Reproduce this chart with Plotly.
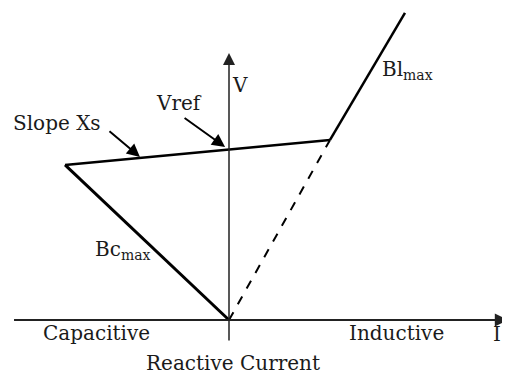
import plotly.graph_objects as go

# V-I characteristic of an SVC (current in p.u. of Bc limit, voltage in p.u.)
bc_current = [0.0, -1.0]
bc_voltage = [0.0, 0.912]

slope_current = [-1.0, 0.616]
slope_voltage = [0.912, 1.059]

bl_current = [0.616, 1.073]
bl_voltage = [1.059, 1.806]

dash_current = [0.0, 0.616]
dash_voltage = [0.0, 1.059]

v_ref = 1.003

FONT = dict(family="DejaVu Serif", size=20, color="#1a1a1a")

fig = go.Figure()

fig.add_trace(go.Scatter(x=bc_current, y=bc_voltage, mode="lines",
                         line=dict(color="black", width=3)))
fig.add_trace(go.Scatter(x=slope_current, y=slope_voltage, mode="lines",
                         line=dict(color="black", width=2.5)))
fig.add_trace(go.Scatter(x=bl_current, y=bl_voltage, mode="lines",
                         line=dict(color="black", width=2.5)))
fig.add_trace(go.Scatter(x=dash_current, y=dash_voltage, mode="lines",
                         line=dict(color="black", width=2, dash="dash")))

annotations = []

# axes drawn as arrows
annotations.append(dict(x=1.70, y=0, ax=-1.32, ay=0, xref="x", yref="y",
                        axref="x", ayref="y", text="", showarrow=True,
                        arrowhead=2, arrowsize=1.3, arrowwidth=2, arrowcolor="#222"))
annotations.append(dict(x=0, y=1.57, ax=0, ay=-0.13, xref="x", yref="y",
                        axref="x", ayref="y", text="", showarrow=True,
                        arrowhead=2, arrowsize=1.6, arrowwidth=1.5, arrowcolor="#222"))

# pointer arrows
annotations.append(dict(x=-0.543, y=0.959, ax=-0.738, ay=1.118, xref="x", yref="y",
                        axref="x", ayref="y", text="", showarrow=True,
                        arrowhead=2, arrowsize=1.3, arrowwidth=2, arrowcolor="black"))
annotations.append(dict(x=-0.024, y=v_ref + 0.015, ax=-0.280, ay=1.194, xref="x", yref="y",
                        axref="x", ayref="y", text="", showarrow=True,
                        arrowhead=2, arrowsize=1.3, arrowwidth=2, arrowcolor="black"))

labels = [
    ("Slope Xs", -1.049, 1.159, "center"),
    ("Vref", -0.305, 1.276, "center"),
    ("V", 0.067, 1.382, "center"),
    ("Bl<sub>max</sub>", 0.921, 1.47, "left"),
    ("Bc<sub>max</sub>", -0.83, 0.41, "left"),
    ("Capacitive", -0.805, -0.076, "center"),
    ("Inductive", 1.024, -0.076, "center"),
    ("I", 1.635, -0.08, "center"),
    ("Reactive Current", 0.024, -0.253, "center"),
]
for text, x, y, anchor in labels:
    annotations.append(dict(x=x, y=y, xref="x", yref="y", text=text,
                            showarrow=False, xanchor=anchor, yanchor="middle",
                            font=FONT))

# page body adds an 8px offset, so the figure is drawn 8px smaller
fig.update_layout(
    width=502, height=366, autosize=False,
    margin=dict(l=0, r=0, t=0, b=0),
    plot_bgcolor="white", paper_bgcolor="white",
    showlegend=False,
    annotations=annotations,
)
fig.update_xaxes(range=[-1.3476, 1.7134], visible=False, fixedrange=True)
fig.update_yaxes(range=[-0.3176, 1.835], visible=False, fixedrange=True)

fig.write_html("out.html")
